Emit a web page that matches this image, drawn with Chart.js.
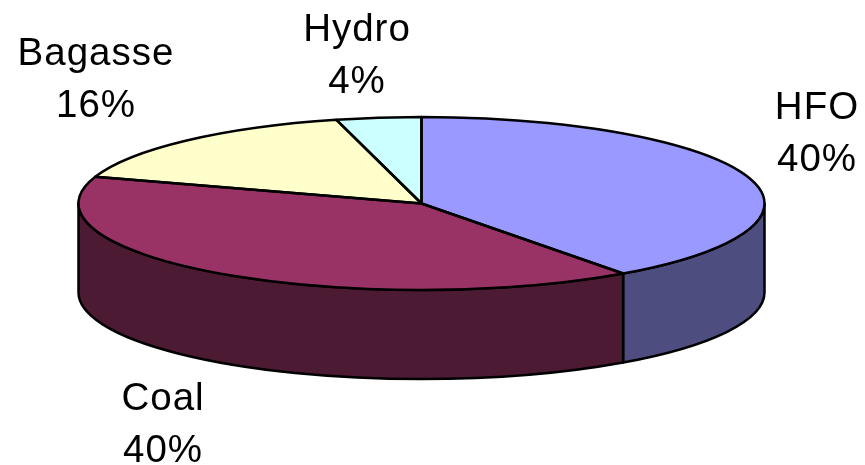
<!DOCTYPE html>
<html>
<head>
<meta charset="utf-8">
<style>
  html, body { margin: 0; padding: 0; background: #fff; }
  #wrap { width: 865px; height: 465px; }
</style>
<script src="https://cdn.jsdelivr.net/npm/chart.js@4/dist/chart.umd.min.js"></script>
</head>
<body>
<div id="wrap"><canvas id="pie" width="865" height="465"></canvas></div>
<script>
const categories = ['HFO', 'Coal', 'Bagasse', 'Hydro'];
const shares = [40, 40, 16, 4];
const topColors = ['#9999FF', '#993366', '#FFFFCC', '#CCFFFF'];
const sideColors = ['#4D4D80', '#4D1A33', '#808066', '#668080'];

// label anchor (centre x, first baseline y), one per category
const labelX = [817, 163, 96, 357];
const labelY = [119, 410, 65, 41];
const lineGap = 52;

const squash = 86.5 / 343;
const depth = 89;

// Chart.js has no 3D pie, so the flat arcs get squashed into an ellipse here
const tiltedPie = {
  id: 'tiltedPie',
  beforeDatasetsDraw(chart) {
    const ctx = chart.ctx;
    const arcs = chart.getDatasetMeta(0).data;
    const cx = arcs[0].x;
    const cy = arcs[0].y;
    const r = arcs[0].outerRadius;

    // side wall, only the front half can be seen
    ctx.save();
    ctx.lineWidth = 2.5;
    ctx.lineJoin = 'round';
    ctx.strokeStyle = '#000';
    arcs.forEach((arc, i) => {
      const a = Math.max(arc.startAngle, 0);
      const b = Math.min(arc.endAngle, Math.PI);
      if (a >= b) return;
      ctx.beginPath();
      ctx.ellipse(cx, cy, r, r * squash, 0, a, b);
      ctx.ellipse(cx, cy + depth, r, r * squash, 0, b, a, true);
      ctx.closePath();
      ctx.fillStyle = sideColors[i];
      ctx.fill();
      ctx.stroke();
    });
    ctx.restore();

    // top face, drawn by the arc elements themselves
    ctx.save();
    ctx.translate(0, cy);
    ctx.scale(1, squash);
    ctx.translate(0, -cy);
    arcs.forEach(arc => arc.draw(ctx));
    ctx.restore();

    // outline after the transform is gone, so the stroke stays even
    ctx.save();
    ctx.lineWidth = 2.5;
    ctx.lineJoin = 'round';
    ctx.strokeStyle = '#000';
    arcs.forEach(arc => {
      ctx.beginPath();
      ctx.moveTo(cx, cy);
      ctx.ellipse(cx, cy, r, r * squash, 0, arc.startAngle, arc.endAngle);
      ctx.closePath();
      ctx.stroke();
    });
    ctx.restore();
    return false;
  },
  afterDraw(chart) {
    const ctx = chart.ctx;
    ctx.save();
    ctx.fillStyle = '#000';
    ctx.font = '38.5px "Liberation Sans", Arial, sans-serif';
    ctx.letterSpacing = '1px';
    ctx.textAlign = 'center';
    ctx.textBaseline = 'alphabetic';
    categories.forEach((name, i) => {
      ctx.fillText(name, labelX[i], labelY[i]);
      ctx.fillText(shares[i] + '%', labelX[i], labelY[i] + lineGap);
    });
    ctx.restore();
  },
};

new Chart(document.getElementById('pie').getContext('2d'), {
  type: 'pie',
  data: {
    labels: categories,
    datasets: [{
      data: shares,
      backgroundColor: topColors,
      borderWidth: 0,
    }],
  },
  options: {
    responsive: false,
    animation: false,
    radius: 343,
    // moves the pie centre away from the canvas centre
    layout: { padding: { right: 22, bottom: 58 } },
    plugins: {
      legend: { display: false },
      tooltip: { enabled: false },
    },
  },
  plugins: [tiltedPie],
});
</script>
</body>
</html>
